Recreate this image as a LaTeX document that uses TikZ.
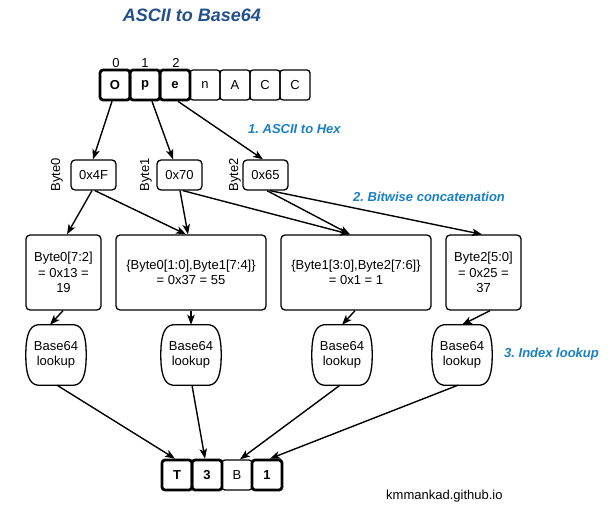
\documentclass[tikz,border=0pt]{standalone}
\usepackage{fontspec}
\setmainfont{Liberation Sans}
\usetikzlibrary{arrows.meta,calc}
\definecolor{titleblue}{HTML}{23508C}
\definecolor{labelblue}{HTML}{1A80C2}
\frenchspacing
\newcommand\lookupshape[1]{%
  \draw[line width=1.3pt]
    ($(#1.north west)+(12,0)$) -- ($(#1.north east)+(-12,0)$)
    .. controls ($(#1.north east)+(-3,1)$) and ($(#1.north east)+(0,12)$) .. (#1.east)
    .. controls ($(#1.south east)+(0,-12)$) and ($(#1.south east)+(-3,-1)$) .. ($(#1.south east)+(-12,0)$)
    -- ($(#1.south west)+(12,0)$)
    .. controls ($(#1.south west)+(3,-1)$) and ($(#1.south west)+(0,-12)$) .. (#1.west)
    .. controls ($(#1.north west)+(0,12)$) and ($(#1.north west)+(3,1)$) .. ($(#1.north west)+(12,0)$)
    -- cycle;}
\begin{document}
\begin{tikzpicture}[x=1pt,y=-1pt,
  every node/.style={font=\fontsize{13}{15.6}\selectfont, inner sep=0pt, align=center},
  charbox/.style={draw, line width=1.3pt, rounded corners=3pt, minimum width=30pt, minimum height=30pt},
  boldbox/.style={charbox, line width=2.7pt, font=\fontsize{13}{15.6}\selectfont\bfseries},
  hexbox/.style={draw, line width=1.3pt, rounded corners=4pt, minimum width=45pt, minimum height=30pt},
  calcbox/.style={draw, line width=1.3pt, rounded corners=4pt, minimum height=75pt},
  lookupnode/.style={minimum width=60pt, minimum height=60pt},
  bytelabel/.style={rotate=90},
  arr/.style={line width=1.4pt, -{Stealth[length=10pt,width=7.5pt,inset=2.5pt]}},
  steplabel/.style={font=\fontsize{13}{15.6}\selectfont\bfseries\itshape, text=labelblue, anchor=west},
]
\useasboundingbox (0,0) rectangle (610,508);

% title
\node[font=\fontsize{18}{21}\selectfont\bfseries\itshape, text=titleblue] (title) at (192,15) {ASCII to Base64};

% input characters
\node[charbox] (cn) at (205,85) {n};
\node[charbox] (ca) at (235,85) {A};
\node[charbox] (cc1) at (265,85) {C};
\node[charbox] (cc2) at (295,85) {C};
\node[boldbox] (co) at (115,85) {O};
\node[boldbox] (cp) at (145,85) {p};
\node[boldbox] (ce) at (175,85) {e};
\node (i0) at (116,63) {0};
\node (i1) at (145,63) {1};
\node (i2) at (176,63) {2};

% hex bytes
\node[hexbox] (ha) at (93.5,175) {0x4F};
\node[hexbox] (hb) at (179.5,175) {0x70};
\node[hexbox] (hc) at (265.5,175) {0x65};
\node[bytelabel] (b0) at (57,175) {Byte0};
\node[bytelabel] (b1) at (146,175) {Byte1};
\node[bytelabel] (b2) at (235,175) {Byte2};

% concatenation boxes
\node[calcbox, minimum width=75pt] (k1) at (63.5,272.5) {Byte0[7:2]\\= 0x13 =\\19};
\node[calcbox, minimum width=150pt] (k2) at (191,272.5) {\{Byte0[1:0],Byte1[7:4]\}\\= 0x37 = 55};
\node[calcbox, minimum width=150pt] (k3) at (356,272.5) {\{Byte1[3:0],Byte2[7:6]\}\\= 0x1 = 1};
\node[calcbox, minimum width=75pt] (k4) at (483.5,272.5) {Byte2[5:0]\\= 0x25 =\\37};

% lookups
\node[lookupnode] (l1) at (56,355) {Base64\\lookup};
\node[lookupnode] (l2) at (191,355) {Base64\\lookup};
\node[lookupnode] (l3) at (342,355) {Base64\\lookup};
\node[lookupnode] (l4) at (462,355) {Base64\\lookup};
\lookupshape{l1}
\lookupshape{l2}
\lookupshape{l3}
\lookupshape{l4}

% output
\node[charbox] (rb) at (237,475) {B};
\node[boldbox] (rt) at (177,475) {T};
\node[boldbox] (r3) at (207,475) {3};
\node[boldbox] (r1) at (267,475) {1};

% step labels
\node[steplabel] (s1) at (248,129) {1. ASCII to Hex};
\node[steplabel] (s2) at (353,197) {2. Bitwise concatenation};
\node[steplabel] (s3) at (504,354) {3. Index lookup};
\node[anchor=west] (site) at (386,496) {kmmankad.github.io};

% arrows: chars -> hex
\draw[arr] ([xshift=-3pt]co.south) -- ([xshift=-0.5pt]ha.north);
\draw[arr] ([xshift=7pt]cp.south) -- ([xshift=-6.5pt]hb.north);
\draw[arr] ([xshift=3pt]ce.south) -- ([xshift=-2.5pt]hc.north);

% hex -> concatenation
\draw[arr] ([xshift=-1.5pt]ha.south) -- ([xshift=3.5pt]k1.north);
\draw[arr] ([xshift=1.5pt]ha.south) -- ([xshift=-5pt]k2.north);
\draw[arr] ([xshift=0.5pt]hb.south) -- ([xshift=-3pt]k2.north);
\draw[arr] ([xshift=3.5pt]hb.south) -- ([xshift=-6pt]k3.north);
\draw[arr] ([xshift=1.5pt]hc.south) -- ([xshift=-6pt]k3.north);
\draw[arr] ([xshift=4.5pt]hc.south) -- ([xshift=-1.5pt]k4.north);

% concatenation -> lookup
\draw[arr] ([xshift=-0.5pt]k1.south) -- ([xshift=-6pt]l1.north);
\draw[arr] (k2.south) -- (l2.north);
\draw[arr] ([xshift=-1pt]k3.south) -- (l3.north);
\draw[arr] ([xshift=6.5pt]k4.south) -- (l4.north);

% lookup -> output
\draw[arr] ([xshift=1pt]l1.south) -- ([xshift=-2pt]rt.north);
\draw[arr] ([xshift=1pt]l2.south) -- ([xshift=-2pt]r3.north);
\draw[arr] ([xshift=-2pt]l3.south) -- ([xshift=3pt]rb.north);
\draw[arr] ([xshift=-4pt]l4.south) -- ([xshift=3pt]r1.north);
\end{tikzpicture}
\end{document}
